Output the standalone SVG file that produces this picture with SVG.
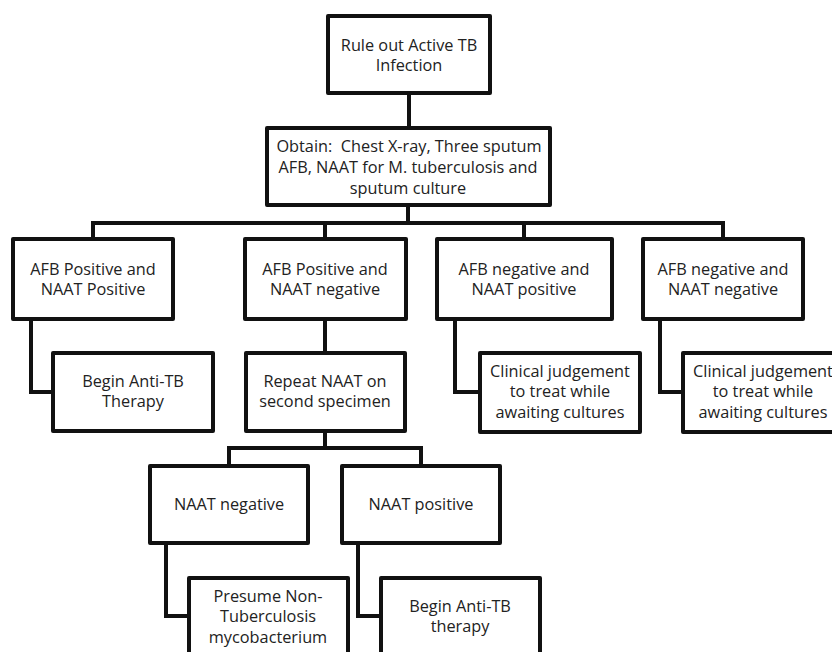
<svg xmlns="http://www.w3.org/2000/svg" width="832" height="652" viewBox="0 0 832 652">
  <style>
    .box { fill: #ffffff; stroke: #111111; stroke-width: 4; stroke-linejoin: round; }
    .link { fill: none; stroke: #111111; stroke-width: 4; stroke-linejoin: miter; }
    text { font-family: "Open Sans", "Liberation Sans", Arial, sans-serif; font-size: 16.3px; fill: #222222; text-anchor: middle; white-space: pre; }
  </style>
  <rect width="832" height="652" fill="#ffffff"/>

  <!-- connectors -->
  <g id="connectors">
    <path class="link" d="M409 93 V128"/>
    <path class="link" d="M408 205 V223"/>
    <path class="link" d="M93 239 V223 H723 V239"/>
    <path class="link" d="M325 223 V239"/>
    <path class="link" d="M524 223 V239"/>
    <path class="link" d="M31 319 V392 H53"/>
    <path class="link" d="M325 319 V353"/>
    <path class="link" d="M455 319 V392 H480"/>
    <path class="link" d="M660 319 V392 H683"/>
    <path class="link" d="M325 431 V448"/>
    <path class="link" d="M229 466 V448 H421 V466"/>
    <path class="link" d="M166 543 V616 H189"/>
    <path class="link" d="M358 543 V616 H381"/>
  </g>

  <g id="root">
    <rect class="box" x="328" y="16" width="162" height="77"/>
    <text x="409" y="51">Rule out Active TB</text>
    <text x="409" y="71">Infection</text>
  </g>

  <g id="obtain">
    <rect class="box" x="267" y="128" width="283" height="77"/>
    <text x="409" y="152" xml:space="preserve">Obtain:  Chest X-ray, Three sputum</text>
    <text x="408" y="173">AFB, NAAT for M. tuberculosis and</text>
    <text x="408" y="194">sputum culture</text>
  </g>

  <g id="afbpos-naatpos">
    <rect class="box" x="13" y="239" width="160" height="80"/>
    <text x="93" y="275">AFB Positive and</text>
    <text x="93" y="295">NAAT Positive</text>
  </g>

  <g id="afbpos-naatneg">
    <rect class="box" x="245" y="239" width="161" height="80"/>
    <text x="325" y="275">AFB Positive and</text>
    <text x="325" y="295">NAAT negative</text>
  </g>

  <g id="afbneg-naatpos">
    <rect class="box" x="437" y="239" width="175" height="80"/>
    <text x="524" y="275">AFB negative and</text>
    <text x="524" y="295">NAAT positive</text>
  </g>

  <g id="afbneg-naatneg">
    <rect class="box" x="643" y="239" width="160" height="80"/>
    <text x="723" y="275">AFB negative and</text>
    <text x="723" y="295">NAAT negative</text>
  </g>

  <g id="begin-therapy-1">
    <rect class="box" x="53" y="353" width="160" height="78"/>
    <text x="133" y="387">Begin Anti-TB</text>
    <text x="133" y="407">Therapy</text>
  </g>

  <g id="repeat-naat">
    <rect class="box" x="246" y="353" width="159" height="78"/>
    <text x="325" y="387">Repeat NAAT on</text>
    <text x="325" y="407">second specimen</text>
  </g>

  <g id="clinical-1">
    <rect class="box" x="480" y="353" width="160" height="79"/>
    <text x="560" y="377">Clinical judgement</text>
    <text x="560" y="397">to treat while</text>
    <text x="560" y="418">awaiting cultures</text>
  </g>

  <g id="clinical-2">
    <rect class="box" x="683" y="353" width="160" height="79"/>
    <text x="763" y="377">Clinical judgement</text>
    <text x="763" y="397">to treat while</text>
    <text x="763" y="418">awaiting cultures</text>
  </g>

  <g id="naat-negative">
    <rect class="box" x="150" y="466" width="158" height="77"/>
    <text x="229" y="510">NAAT negative</text>
  </g>

  <g id="naat-positive">
    <rect class="box" x="342" y="466" width="158" height="77"/>
    <text x="421" y="510">NAAT positive</text>
  </g>

  <g id="presume-ntm">
    <rect class="box" x="189" y="578" width="159" height="90"/>
    <text x="268" y="602">Presume Non-</text>
    <text x="268" y="622">Tuberculosis</text>
    <text x="268" y="643">mycobacterium</text>
  </g>

  <g id="begin-therapy-2">
    <rect class="box" x="381" y="578" width="159" height="90"/>
    <text x="460" y="612">Begin Anti-TB</text>
    <text x="460" y="632">therapy</text>
  </g>
</svg>
